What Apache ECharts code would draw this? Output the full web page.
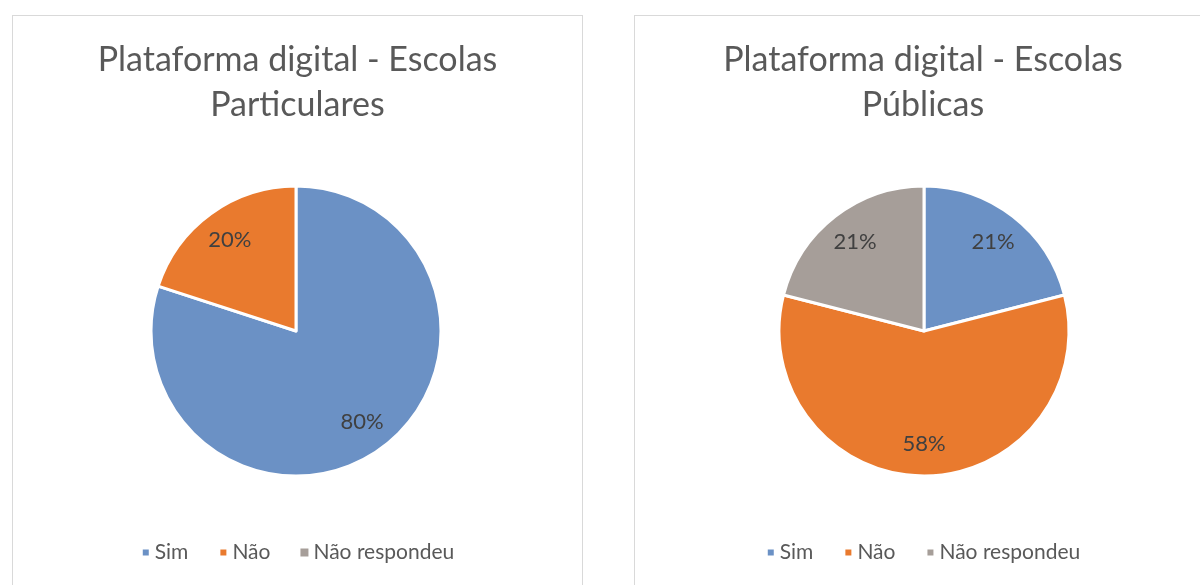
<!DOCTYPE html>
<html>
<head>
<meta charset="utf-8">
<script src="https://cdn.jsdelivr.net/npm/echarts@6/dist/echarts.min.js"></script>
<style>
	body {
		margin: 0;
		width: 1200px;
		height: 585px;
		overflow: hidden;
		background: #fff;
		position: relative;
	}
	.panel {
		position: absolute;
		top: 15px;
		height: 600px;
		border: 1px solid #d9d9d9;
		box-sizing: border-box;
	}
</style>
</head>
<body>
<div id="left" class="panel" style="left: 12px; width: 571px;"></div>
<div id="right" class="panel" style="left: 634px; width: 578px;"></div>
<script>
const categories = ['Sim', 'Não', 'Não respondeu'];
const particularesValues = [80, 20, 0];
const publicasValues = [21, 58, 21];
const titles = ['Plataforma digital - Escolas\nParticulares', 'Plataforma digital - Escolas\nPúblicas'];
const colors = ['#6b91c5', '#e97a2e', '#a69e99'];

const FONT = 'Lato, "Open Sans", sans-serif';

function buildOption(title, values, cx) {
	const data = categories.map((name, i) => ({
		name,
		value: values[i],
		itemStyle: values[i] === 0 ? { borderWidth: 0 } : undefined,
	}));
	return {
		color: colors,
		animation: false,
		title: {
			text: title,
			left: 'center',
			top: 17,
			textStyle: {
				fontFamily: FONT,
				fontSize: 34,
				fontWeight: 'normal',
				color: '#595959',
				lineHeight: 45,
			},
		},
		legend: {
			top: 521,
			left: 'center',
			icon: 'rect',
			itemWidth: 8,
			itemHeight: 8,
			itemGap: 30,
			data: categories,
			textStyle: {
				fontFamily: FONT,
				fontSize: 21,
				color: '#595959',
			},
		},
		series: [
			{
				type: 'pie',
				center: [cx, 315],
				radius: [0, 145],
				startAngle: 90,
				clockwise: true,
				silent: true,
				label: { show: false },
				labelLine: { show: false },
				itemStyle: { borderColor: '#fff', borderWidth: 3 },
				data,
			},
			{
				// transparent ring, only used to place the labels further out
				type: 'pie',
				center: [cx, 315],
				radius: [74, 145],
				startAngle: 90,
				clockwise: true,
				silent: true,
				legendHoverLink: false,
				itemStyle: { color: 'rgba(0,0,0,0)' },
				label: {
					show: true,
					position: 'inside',
					fontFamily: FONT,
					fontSize: 22,
					color: '#404040',
					formatter: (p) => (p.value > 0 ? p.value + '%' : ''),
				},
				labelLine: { show: false },
				data: categories.map((name, i) => ({ name, value: values[i] })),
			},
		],
	};
}

const leftChart = echarts.init(document.getElementById('left'), null, { renderer: 'canvas' });
leftChart.setOption(buildOption(titles[0], particularesValues, 283));

const rightChart = echarts.init(document.getElementById('right'), null, { renderer: 'canvas' });
rightChart.setOption(buildOption(titles[1], publicasValues, 289));
</script>
</body>
</html>
